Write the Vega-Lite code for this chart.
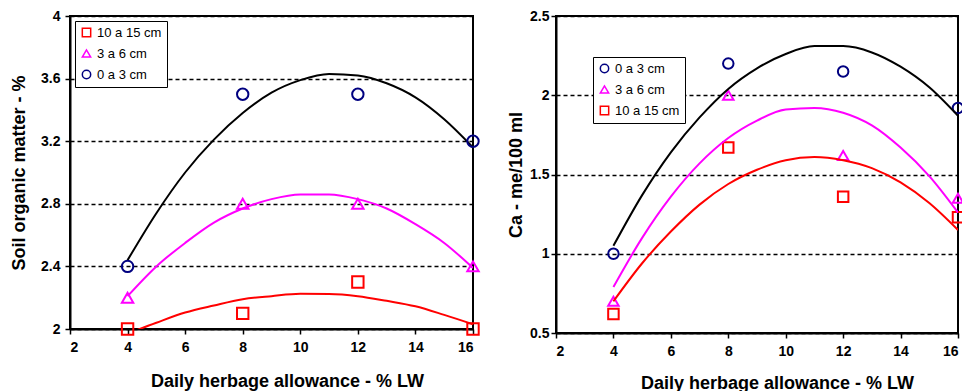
{
  "$schema": "https://vega.github.io/schema/vega-lite/v6.json",
  "background": "white",
  "padding": {"left": 9, "top": 8, "right": 0, "bottom": 0},
  "bounds": "flush",
  "spacing": 83,
  "config": {
    "view": {"stroke": "black", "strokeWidth": 2},
    "font": "Liberation Sans",
    "axis": {
      "domainColor": "black", "domainWidth": 2, "tickColor": "black", "tickWidth": 1.5, "tickSize": 5,
      "labelFont": "Liberation Sans", "labelFontWeight": "bold", "labelFontSize": 14, "labelColor": "black",
      "titleFont": "Liberation Sans", "titleFontWeight": "bold", "titleFontSize": 18, "titleColor": "black"
    },
    "legend": {
      "labelFont": "Liberation Sans", "labelFontSize": 13, "labelColor": "black",
      "fillColor": "white", "strokeColor": "black", "padding": 5, "rowPadding": 6,
      "symbolStrokeWidth": 1.5, "symbolSize": 70, "title": null
    }
  },
  "resolve": {
    "scale": {"color": "independent", "shape": "independent", "stroke": "independent", "x": "independent", "y": "independent"},
    "legend": {"color": "independent", "shape": "independent", "stroke": "independent"}
  },
  "datasets": {
    "pointsL": [
      {"depth": "0 a 3 cm", "x": 4, "y": 2.4}, {"depth": "0 a 3 cm", "x": 8, "y": 3.5}, {"depth": "0 a 3 cm", "x": 12, "y": 3.5}, {"depth": "0 a 3 cm", "x": 16, "y": 3.2},
      {"depth": "3 a 6 cm", "x": 4, "y": 2.2}, {"depth": "3 a 6 cm", "x": 8, "y": 2.8}, {"depth": "3 a 6 cm", "x": 12, "y": 2.8}, {"depth": "3 a 6 cm", "x": 16, "y": 2.4},
      {"depth": "10 a 15 cm", "x": 4, "y": 2.0}, {"depth": "10 a 15 cm", "x": 8, "y": 2.1}, {"depth": "10 a 15 cm", "x": 12, "y": 2.3}, {"depth": "10 a 15 cm", "x": 16, "y": 2.0}
    ],
    "curvesL": [
      {"depth": "0 a 3 cm", "x": 4, "y": 2.44}, {"depth": "0 a 3 cm", "x": 5, "y": 2.74}, {"depth": "0 a 3 cm", "x": 6, "y": 3.0}, {"depth": "0 a 3 cm", "x": 7, "y": 3.21}, {"depth": "0 a 3 cm", "x": 8, "y": 3.38}, {"depth": "0 a 3 cm", "x": 9, "y": 3.51}, {"depth": "0 a 3 cm", "x": 10, "y": 3.59}, {"depth": "0 a 3 cm", "x": 11, "y": 3.63}, {"depth": "0 a 3 cm", "x": 12, "y": 3.62}, {"depth": "0 a 3 cm", "x": 13, "y": 3.57}, {"depth": "0 a 3 cm", "x": 14, "y": 3.48}, {"depth": "0 a 3 cm", "x": 15, "y": 3.34}, {"depth": "0 a 3 cm", "x": 16, "y": 3.16},
      {"depth": "3 a 6 cm", "x": 4, "y": 2.21}, {"depth": "3 a 6 cm", "x": 5, "y": 2.4}, {"depth": "3 a 6 cm", "x": 6, "y": 2.55}, {"depth": "3 a 6 cm", "x": 7, "y": 2.68}, {"depth": "3 a 6 cm", "x": 8, "y": 2.77}, {"depth": "3 a 6 cm", "x": 9, "y": 2.83}, {"depth": "3 a 6 cm", "x": 10, "y": 2.86}, {"depth": "3 a 6 cm", "x": 11, "y": 2.86}, {"depth": "3 a 6 cm", "x": 12, "y": 2.83}, {"depth": "3 a 6 cm", "x": 13, "y": 2.77}, {"depth": "3 a 6 cm", "x": 14, "y": 2.67}, {"depth": "3 a 6 cm", "x": 15, "y": 2.55}, {"depth": "3 a 6 cm", "x": 16, "y": 2.39},
      {"depth": "10 a 15 cm", "x": 4, "y": 1.97}, {"depth": "10 a 15 cm", "x": 5, "y": 2.04}, {"depth": "10 a 15 cm", "x": 6, "y": 2.105}, {"depth": "10 a 15 cm", "x": 7, "y": 2.15}, {"depth": "10 a 15 cm", "x": 8, "y": 2.19}, {"depth": "10 a 15 cm", "x": 9, "y": 2.21}, {"depth": "10 a 15 cm", "x": 10, "y": 2.225}, {"depth": "10 a 15 cm", "x": 11, "y": 2.224}, {"depth": "10 a 15 cm", "x": 12, "y": 2.21}, {"depth": "10 a 15 cm", "x": 13, "y": 2.18}, {"depth": "10 a 15 cm", "x": 14, "y": 2.145}, {"depth": "10 a 15 cm", "x": 15, "y": 2.09}, {"depth": "10 a 15 cm", "x": 16, "y": 2.03}
    ],
    "pointsR": [
      {"depth": "0 a 3 cm", "x": 4, "y": 1.0}, {"depth": "0 a 3 cm", "x": 8, "y": 2.2}, {"depth": "0 a 3 cm", "x": 12, "y": 2.15}, {"depth": "0 a 3 cm", "x": 16, "y": 1.92},
      {"depth": "3 a 6 cm", "x": 4, "y": 0.7}, {"depth": "3 a 6 cm", "x": 8, "y": 2.0}, {"depth": "3 a 6 cm", "x": 12, "y": 1.62}, {"depth": "3 a 6 cm", "x": 16, "y": 1.35},
      {"depth": "10 a 15 cm", "x": 4, "y": 0.62}, {"depth": "10 a 15 cm", "x": 8, "y": 1.67}, {"depth": "10 a 15 cm", "x": 12, "y": 1.36}, {"depth": "10 a 15 cm", "x": 16, "y": 1.23}
    ],
    "curvesR": [
      {"depth": "0 a 3 cm", "x": 4, "y": 1.05}, {"depth": "0 a 3 cm", "x": 5, "y": 1.37}, {"depth": "0 a 3 cm", "x": 6, "y": 1.64}, {"depth": "0 a 3 cm", "x": 7, "y": 1.86}, {"depth": "0 a 3 cm", "x": 8, "y": 2.04}, {"depth": "0 a 3 cm", "x": 9, "y": 2.17}, {"depth": "0 a 3 cm", "x": 10, "y": 2.26}, {"depth": "0 a 3 cm", "x": 11, "y": 2.31}, {"depth": "0 a 3 cm", "x": 12, "y": 2.31}, {"depth": "0 a 3 cm", "x": 13, "y": 2.27}, {"depth": "0 a 3 cm", "x": 14, "y": 2.18}, {"depth": "0 a 3 cm", "x": 15, "y": 2.05}, {"depth": "0 a 3 cm", "x": 16, "y": 1.87},
      {"depth": "3 a 6 cm", "x": 4, "y": 0.79}, {"depth": "3 a 6 cm", "x": 5, "y": 1.1}, {"depth": "3 a 6 cm", "x": 6, "y": 1.36}, {"depth": "3 a 6 cm", "x": 7, "y": 1.57}, {"depth": "3 a 6 cm", "x": 8, "y": 1.73}, {"depth": "3 a 6 cm", "x": 9, "y": 1.84}, {"depth": "3 a 6 cm", "x": 10, "y": 1.91}, {"depth": "3 a 6 cm", "x": 11, "y": 1.92}, {"depth": "3 a 6 cm", "x": 12, "y": 1.89}, {"depth": "3 a 6 cm", "x": 13, "y": 1.81}, {"depth": "3 a 6 cm", "x": 14, "y": 1.67}, {"depth": "3 a 6 cm", "x": 15, "y": 1.49}, {"depth": "3 a 6 cm", "x": 16, "y": 1.26},
      {"depth": "10 a 15 cm", "x": 4, "y": 0.7}, {"depth": "10 a 15 cm", "x": 5, "y": 0.94}, {"depth": "10 a 15 cm", "x": 6, "y": 1.14}, {"depth": "10 a 15 cm", "x": 7, "y": 1.31}, {"depth": "10 a 15 cm", "x": 8, "y": 1.44}, {"depth": "10 a 15 cm", "x": 9, "y": 1.53}, {"depth": "10 a 15 cm", "x": 10, "y": 1.59}, {"depth": "10 a 15 cm", "x": 11, "y": 1.61}, {"depth": "10 a 15 cm", "x": 12, "y": 1.59}, {"depth": "10 a 15 cm", "x": 13, "y": 1.54}, {"depth": "10 a 15 cm", "x": 14, "y": 1.45}, {"depth": "10 a 15 cm", "x": 15, "y": 1.32}, {"depth": "10 a 15 cm", "x": 16, "y": 1.15}
    ]
  },
  "hconcat": [
    {
      "width": 403,
      "height": 313,
      "layer": [
        {
          "data": {"name": "curvesL"},
          "mark": {"type": "line", "clip": true, "interpolate": "monotone", "strokeWidth": 2},
          "encoding": {
            "x": {"field": "x", "type": "quantitative", "scale": {"domain": [2, 16], "nice": false},
              "axis": {"values": [2, 4, 6, 8, 10, 12, 14, 16], "grid": false, "title": "Daily herbage  allowance - % LW", "labelPadding": 6, "titleX": 217, "titleY": 57, "titleBaseline": "alphabetic"}},
            "y": {"field": "y", "type": "quantitative", "scale": {"domain": [2, 4], "nice": false, "zero": false},
              "axis": {"values": [2, 2.4, 2.8, 3.2, 3.6, 4], "format": "~g", "grid": true, "gridColor": "black", "gridDash": [4, 3], "gridWidth": 1.5, "gridOpacity": 1, "title": "Soil organic matter - %", "labelPadding": 5, "titlePadding": 12}},
            "stroke": {"field": "depth", "type": "nominal", "scale": {"domain": ["0 a 3 cm", "3 a 6 cm", "10 a 15 cm"], "range": ["#000000", "#FF00FF", "#FF0000"]}, "legend": null}
          }
        },
        {
          "data": {"name": "pointsL"},
          "mark": {"type": "point", "filled": false, "strokeWidth": 2, "size": 130, "opacity": 1},
          "encoding": {
            "x": {"field": "x", "type": "quantitative"},
            "y": {"field": "y", "type": "quantitative"},
            "color": {"field": "depth", "type": "nominal", "scale": {"domain": ["10 a 15 cm", "3 a 6 cm", "0 a 3 cm"], "range": ["#FF0000", "#FF00FF", "#000080"]},
              "legend": {"orient": "none", "legendX": 5, "legendY": 5}},
            "shape": {"field": "depth", "type": "nominal", "scale": {"domain": ["10 a 15 cm", "3 a 6 cm", "0 a 3 cm"], "range": ["square", "triangle-up", "circle"]},
              "legend": {"orient": "none", "legendX": 5, "legendY": 5}}
          }
        }
      ]
    },
    {
      "width": 402,
      "height": 317,
      "layer": [
        {
          "data": {"name": "pointsR"},
          "mark": {"type": "point", "filled": false, "strokeWidth": 2, "size": 110, "opacity": 1},
          "encoding": {
            "x": {"field": "x", "type": "quantitative", "scale": {"domain": [2, 16], "nice": false},
              "axis": {"values": [2, 4, 6, 8, 10, 12, 14, 16], "grid": false, "title": "Daily herbage  allowance - % LW", "labelPadding": 6, "titleX": 221, "titleY": 55, "titleBaseline": "alphabetic"}},
            "y": {"field": "y", "type": "quantitative", "scale": {"domain": [0.5, 2.5], "nice": false, "zero": false},
              "axis": {"values": [0.5, 1, 1.5, 2, 2.5], "format": "~g", "grid": true, "gridColor": "black", "gridDash": [4, 3], "gridWidth": 1.5, "gridOpacity": 1, "title": "Ca - me/100 ml", "labelPadding": 2, "titlePadding": 4}},
            "color": {"field": "depth", "type": "nominal", "scale": {"domain": ["0 a 3 cm", "3 a 6 cm", "10 a 15 cm"], "range": ["#000080", "#FF00FF", "#FF0000"]},
              "legend": {"orient": "none", "legendX": 37, "legendY": 41}},
            "shape": {"field": "depth", "type": "nominal", "scale": {"domain": ["0 a 3 cm", "3 a 6 cm", "10 a 15 cm"], "range": ["circle", "triangle-up", "square"]},
              "legend": {"orient": "none", "legendX": 37, "legendY": 41}}
          }
        },
        {
          "data": {"name": "curvesR"},
          "mark": {"type": "line", "clip": true, "interpolate": "monotone", "strokeWidth": 2},
          "encoding": {
            "x": {"field": "x", "type": "quantitative"},
            "y": {"field": "y", "type": "quantitative"},
            "stroke": {"field": "depth", "type": "nominal", "scale": {"domain": ["0 a 3 cm", "3 a 6 cm", "10 a 15 cm"], "range": ["#000000", "#FF00FF", "#FF0000"]}, "legend": null}
          }
        }
      ]
    }
  ]
}
